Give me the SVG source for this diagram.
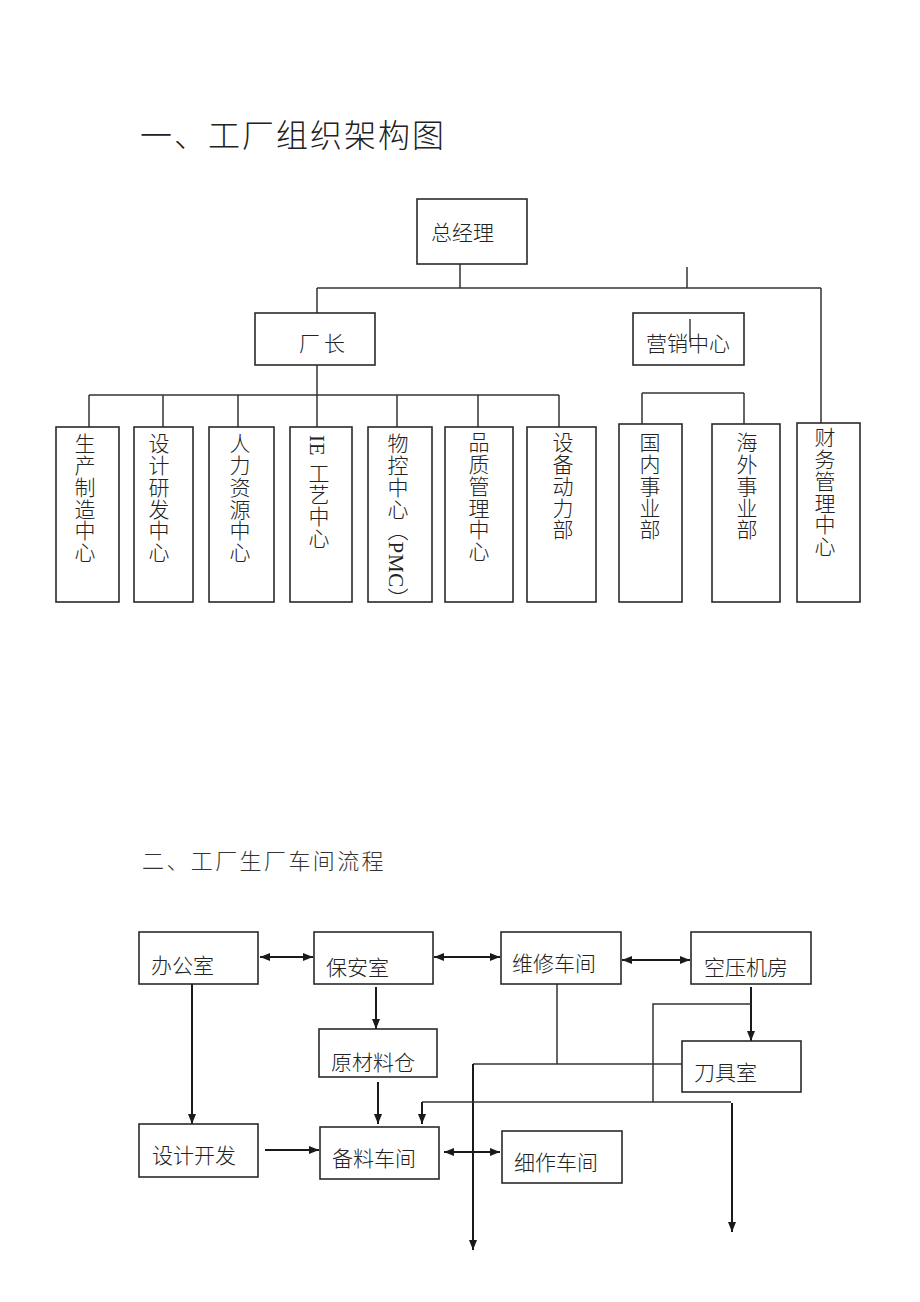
<svg xmlns="http://www.w3.org/2000/svg" width="920" height="1302" viewBox="0 0 920 1302">
  <style>
    .bg { fill: #ffffff; }
    .box { fill: #ffffff; stroke: #2a2a2a; stroke-width: 1.6; }
    .ln { fill: none; stroke: #333333; stroke-width: 1.5; }
    .arr { fill: none; stroke: #1a1a1a; stroke-width: 2; }
    .t { font-family: "Noto Sans CJK SC", "Liberation Sans", sans-serif; font-size: 21px; font-weight: 300; fill: #222222; }
    .v { font-family: "Liberation Serif", "Noto Sans CJK SC", serif; font-size: 21px; font-weight: 300; fill: #222222; writing-mode: vertical-rl; letter-spacing: 0.7px; }
    .h1 { font-family: "Noto Sans CJK SC", "Liberation Sans", sans-serif; font-size: 32px; font-weight: 300; fill: #222222; letter-spacing: 2px; }
    .h2 { font-family: "Noto Sans CJK SC", "Liberation Sans", sans-serif; font-size: 22px; font-weight: 300; fill: #333333; letter-spacing: 2.4px; }
  </style>
  <defs>
    <marker id="ah" viewBox="0 0 10 8" refX="10" refY="4" markerWidth="10" markerHeight="8" markerUnits="userSpaceOnUse" orient="auto-start-reverse">
      <path d="M0,0 L10,4 L0,8 z" fill="#1a1a1a"/>
    </marker>
  </defs>
  <rect class="bg" x="0" y="0" width="920" height="1302"/>

  <text id="title1" class="h1" x="140" y="147">一、工厂组织架构图</text>
  <text id="title2" class="h2" x="142" y="869">二、工厂生厂车间流程</text>

  <!-- org chart connectors -->
  <g id="org-connectors">
    <line class="ln" x1="460" y1="264" x2="460" y2="288"/>
    <line class="ln" x1="317" y1="288" x2="821" y2="288"/>
    <line class="ln" x1="687" y1="267" x2="687" y2="288"/>
    <line class="ln" x1="317" y1="288" x2="317" y2="313"/>
    <line class="ln" x1="821" y1="288" x2="821" y2="423"/>
    <line class="ln" x1="317" y1="365" x2="317" y2="427"/>
    <line class="ln" x1="89" y1="395" x2="559" y2="395"/>
    <line class="ln" x1="89" y1="395" x2="89" y2="427"/>
    <line class="ln" x1="163" y1="395" x2="163" y2="427"/>
    <line class="ln" x1="238" y1="395" x2="238" y2="427"/>
    <line class="ln" x1="397" y1="395" x2="397" y2="427"/>
    <line class="ln" x1="478" y1="395" x2="478" y2="427"/>
    <line class="ln" x1="559" y1="395" x2="559" y2="427"/>
    <line class="ln" x1="642" y1="393" x2="744" y2="393"/>
    <line class="ln" x1="642" y1="393" x2="642" y2="424"/>
    <line class="ln" x1="744" y1="393" x2="744" y2="424"/>
  </g>

  <g id="n-zjl"><rect class="box" x="417" y="199" width="110" height="65"/><text class="t" x="431" y="240">总经理</text></g>
  <g id="n-cz"><rect class="box" x="255" y="313" width="120" height="52"/><text class="t" x="299" y="351" letter-spacing="4">厂长</text></g>
  <g id="n-yx"><rect class="box" x="633" y="313" width="111" height="52"/><text class="t" x="646" y="351">营销中心</text><line x1="690" y1="319" x2="690" y2="342" stroke="#222" stroke-width="1.3"/></g>

  <g id="n-sczz"><rect class="box" x="56" y="427" width="63" height="175"/><text class="v" x="83" y="433">生产制造中心</text></g>
  <g id="n-sjyf"><rect class="box" x="134" y="427" width="59" height="175"/><text class="v" x="157" y="433">设计研发中心</text></g>
  <g id="n-rlzy"><rect class="box" x="209" y="427" width="65" height="175"/><text class="v" x="238" y="433">人力资源中心</text></g>
  <g id="n-ie"><rect class="box" x="290" y="427" width="62" height="175"/><text class="v" x="317" y="435">IE 工艺中心</text></g>
  <g id="n-pmc"><rect class="box" x="368" y="427" width="64" height="175"/><text class="v" x="396" y="433">物控中心（PMC）</text></g>
  <g id="n-pz"><rect class="box" x="445" y="427" width="68" height="175"/><text class="v" x="477" y="432">品质管理中心</text></g>
  <g id="n-sbdl"><rect class="box" x="527" y="427" width="69" height="175"/><text class="v" x="561" y="432">设备动力部</text></g>
  <g id="n-gn"><rect class="box" x="619" y="424" width="63" height="178"/><text class="v" x="648" y="432">国内事业部</text></g>
  <g id="n-hw"><rect class="box" x="712" y="424" width="68" height="178"/><text class="v" x="745" y="432">海外事业部</text></g>
  <g id="n-cw"><rect class="box" x="797" y="423" width="63" height="179"/><text class="v" x="823" y="427">财务管理中心</text></g>

  <!-- flow connectors -->
  <g id="flow-connectors">
    <line class="arr" x1="260" y1="957" x2="313" y2="957" marker-start="url(#ah)" marker-end="url(#ah)"/>
    <line class="arr" x1="434" y1="957" x2="500" y2="957" marker-start="url(#ah)" marker-end="url(#ah)"/>
    <line class="arr" x1="622" y1="960" x2="690" y2="960" marker-start="url(#ah)" marker-end="url(#ah)"/>
    <line class="arr" x1="376" y1="987" x2="376" y2="1029" marker-end="url(#ah)"/>
    <line class="arr" x1="378" y1="1082" x2="378" y2="1124" marker-end="url(#ah)"/>
    <line class="arr" x1="192" y1="984" x2="192" y2="1124" marker-end="url(#ah)"/>
    <line class="arr" x1="265" y1="1150" x2="319" y2="1150" marker-end="url(#ah)"/>
    <line class="arr" x1="444" y1="1152" x2="500" y2="1152" marker-start="url(#ah)" marker-end="url(#ah)"/>
    <polyline class="ln" points="557,984 557,1064"/>
    <line class="ln" x1="473" y1="1064" x2="682" y2="1064"/>
    <line class="arr" x1="473" y1="1064" x2="473" y2="1250" marker-end="url(#ah)"/>
    <line class="arr" x1="751" y1="987" x2="751" y2="1041" marker-end="url(#ah)"/>
    <polyline class="ln" points="751,1004 653,1004 653,1102"/>
    <line class="ln" x1="422" y1="1102" x2="731" y2="1102"/>
    <line class="arr" x1="422" y1="1102" x2="422" y2="1124" marker-end="url(#ah)"/>
    <line class="arr" x1="732" y1="1103" x2="732" y2="1232" marker-end="url(#ah)"/>
  </g>

  <g id="f-bgs"><rect class="box" x="139" y="932" width="119" height="52"/><text class="t" x="151" y="973">办公室</text></g>
  <g id="f-bas"><rect class="box" x="314" y="932" width="119" height="52"/><text class="t" x="326" y="975">保安室</text></g>
  <g id="f-wx"><rect class="box" x="501" y="932" width="120" height="52"/><text class="t" x="512" y="971">维修车间</text></g>
  <g id="f-ky"><rect class="box" x="691" y="932" width="120" height="52"/><text class="t" x="704" y="975">空压机房</text></g>
  <g id="f-ycl"><rect class="box" x="319" y="1029" width="118" height="48"/><text class="t" x="331" y="1070">原材料仓</text></g>
  <g id="f-djs"><rect class="box" x="682" y="1041" width="119" height="51"/><text class="t" x="694" y="1080">刀具室</text></g>
  <g id="f-sjkf"><rect class="box" x="139" y="1124" width="119" height="53"/><text class="t" x="152" y="1163">设计开发</text></g>
  <g id="f-bl"><rect class="box" x="320" y="1127" width="119" height="52"/><text class="t" x="332" y="1166">备料车间</text></g>
  <g id="f-xz"><rect class="box" x="502" y="1131" width="120" height="52"/><text class="t" x="514" y="1170">细作车间</text></g>
</svg>
